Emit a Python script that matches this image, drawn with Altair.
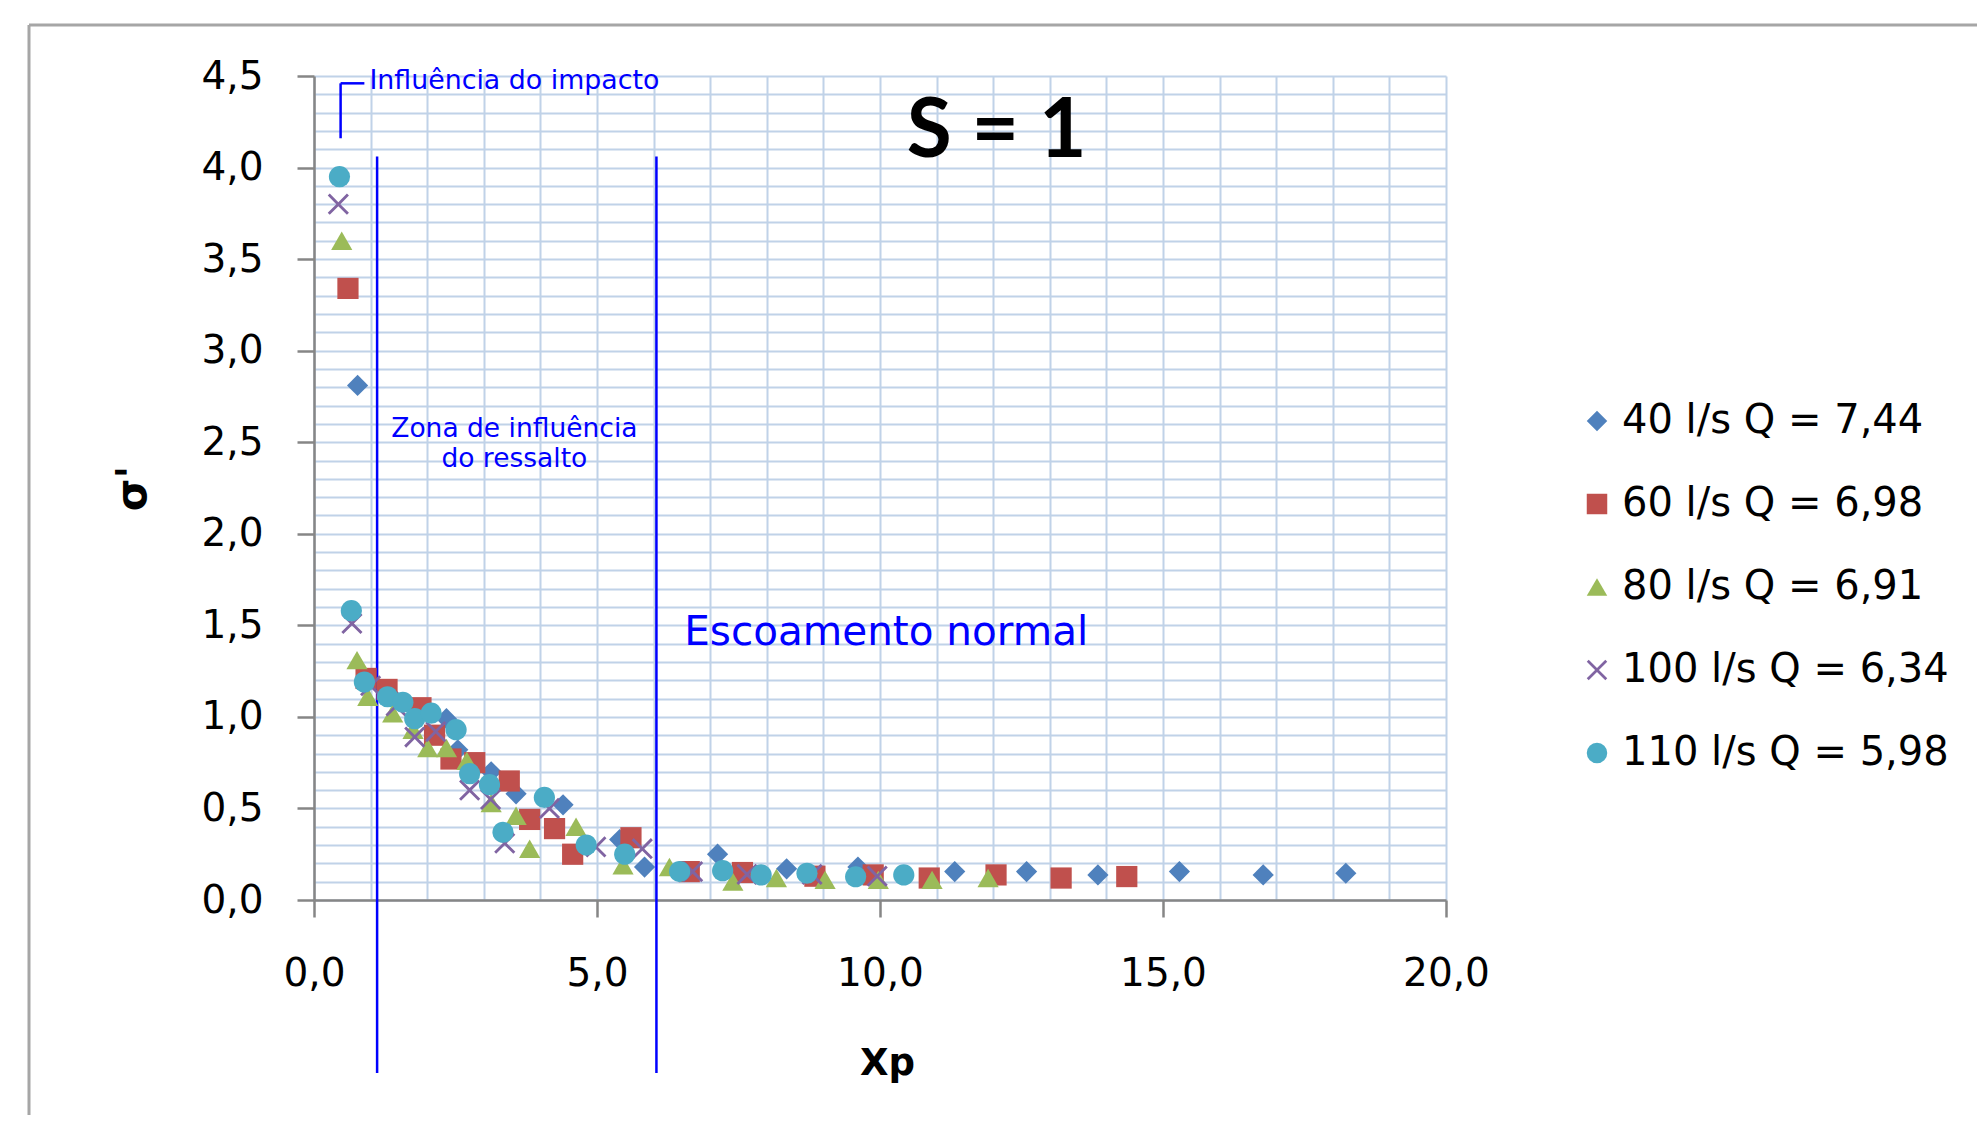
import altair as alt
import pandas as pd

# ---------------- data ----------------
labels = ["40 l/s Q = 7,44", "60 l/s Q = 6,98", "80 l/s Q = 6,91",
          "100 l/s Q = 6,34", "110 l/s Q = 5,98"]
colors = ["#4f81bd", "#c0504d", "#9bbb59", "#8064a2", "#4bacc6"]

x_40 = [0.77, 1.35, 1.90, 2.34, 2.54, 3.13, 3.57, 4.40, 5.40, 5.84, 7.13,
        8.35, 9.61, 11.32, 12.59, 13.85, 15.29, 16.77, 18.23]
y_40 = [2.81, 1.12, 1.02, 0.99, 0.82, 0.70, 0.58, 0.52, 0.33, 0.18, 0.25,
        0.17, 0.18, 0.155, 0.155, 0.137, 0.155, 0.137, 0.146]

x_60 = [0.60, 0.92, 1.29, 1.89, 2.13, 2.42, 2.84, 3.45, 3.81, 4.25, 4.57,
        5.60, 6.63, 7.57, 8.85, 9.88, 10.87, 12.05, 13.20, 14.36]
y_60 = [3.34, 1.21, 1.15, 1.05, 0.90, 0.77, 0.75, 0.65, 0.44, 0.39, 0.25,
        0.34, 0.155, 0.15, 0.13, 0.137, 0.12, 0.137, 0.12, 0.128]

x_80 = [0.49, 0.76, 0.95, 1.39, 1.75, 2.01, 2.34, 2.70, 3.13, 3.57, 3.81,
        4.63, 5.46, 6.28, 7.40, 8.17, 9.03, 9.97, 10.92, 11.91]
y_80 = [3.60, 1.31, 1.11, 1.02, 0.93, 0.83, 0.83, 0.76, 0.53, 0.46, 0.28,
        0.40, 0.19, 0.18, 0.10, 0.12, 0.11, 0.11, 0.11, 0.12]

x_100 = [0.43, 0.67, 1.00, 1.45, 1.78, 2.15, 2.75, 3.12, 3.37, 4.16, 4.98,
         5.80, 6.69, 7.65, 8.80, 9.95]
y_100 = [3.80, 1.51, 1.17, 1.06, 0.89, 0.92, 0.60, 0.55, 0.31, 0.50, 0.29,
         0.28, 0.155, 0.14, 0.14, 0.13]

x_110 = [0.45, 0.66, 0.89, 1.30, 1.57, 1.78, 2.07, 2.51, 2.75, 3.10, 3.34,
         4.07, 4.81, 5.49, 6.46, 7.22, 7.90, 8.71, 9.57, 10.42]
y_110 = [3.95, 1.58, 1.19, 1.11, 1.08, 0.99, 1.02, 0.93, 0.69, 0.63, 0.37,
         0.56, 0.30, 0.25, 0.155, 0.16, 0.137, 0.146, 0.127, 0.137]

# ---------------- tables ----------------
rows = []
for lab, xs, ys in zip(labels, [x_40, x_60, x_80, x_100, x_110],
                       [y_40, y_60, y_80, y_100, y_110]):
    for xv, yv in zip(xs, ys):
        rows.append({"series": lab, "x": xv, "y": yv})
pts = pd.DataFrame(rows)

FONT = "DejaVu Sans"
BLUE = "#0000ff"
AXIS_GREY = "#868686"

x_grid = list(range(0, 21))
y_grid = [round(i * 0.1, 1) for i in range(46)]

xscale = alt.Scale(domain=[0, 20], nice=False, zero=False)
yscale = alt.Scale(domain=[0, 4.5], nice=False, zero=False)

x_label_expr = "datum.value % 5 == 0 ? replace(format(datum.value, '.1f'), '.', ',') : ''"
y_test = "abs(datum.value*2 - round(datum.value*2)) < 0.001"
y_label_expr = y_test + " ? replace(format(datum.value, '.1f'), '.', ',') : ''"

common_axis = dict(grid=True, gridColor="#c0d2e8", gridWidth=2, gridOpacity=1,
                   domainColor=AXIS_GREY, domainWidth=2.5, tickColor=AXIS_GREY,
                   tickWidth=2.5, tickSize=17, labelFont=FONT, labelFontSize=39,
                   labelColor="black", labelOverlap=False, labelFlush=False,
                   titleFont=FONT, titleColor="black", titleAlign="center",
                   titleBaseline="alphabetic", titleFontWeight="bold")

xaxis = alt.Axis(values=x_grid, labelExpr=x_label_expr,
                 tickOpacity={"condition": {"test": "datum.value % 5 == 0", "value": 1}, "value": 0},
                 labelPadding=37, title="Xp", titleX=573, titleY=174, titleFontSize=37,
                 **common_axis)
yaxis = alt.Axis(values=y_grid, labelExpr=y_label_expr,
                 tickOpacity={"condition": {"test": y_test, "value": 1}, "value": 0},
                 labelPadding=34, title="σ'", titleX=-169, titleY=412, titleFontSize=42,
                 **common_axis)


def X(f="x"):
    return alt.X(f, type="quantitative", scale=xscale, axis=xaxis)


def Y(f="y"):
    return alt.Y(f, type="quantitative", scale=yscale, axis=yaxis)


x_path = ("M-1,-0.81L-0.81,-1L0,-0.19L0.81,-1L1,-0.81L0.19,0L1,0.81L0.81,1"
          "L0,0.19L-0.81,1L-1,0.81L-0.19,0Z")
shapes = ["diamond", "square", "triangle-up", x_path, "circle"]

legend = alt.Legend(orient="none", legendX=1263, legendY=325, labelFont=FONT,
                    labelFontSize=40, labelColor="black", symbolSize=420,
                    rowPadding=43, labelOffset=5, padding=0, labelLimit=600)

points = alt.Chart(pts).mark_point(filled=True, opacity=1, size=450).encode(
    x=X(), y=Y(),
    color=alt.Color("series:N", scale=alt.Scale(domain=labels, range=colors),
                    legend=legend, title=None),
    shape=alt.Shape("series:N", scale=alt.Scale(domain=labels, range=shapes),
                    legend=legend, title=None),
)

# vertical zone lines and the bracket of "Influência do impacto"
lines_df = pd.DataFrame({
    "x": [1.115, 6.05, 0.47, 0.47],
    "x2": [1.115, 6.05, 0.47, 0.89],
    "y": [4.06, 4.06, 4.16, 4.46],
    "y2": [-0.945, -0.945, 4.46, 4.46],
})
lines = alt.Chart(lines_df).mark_rule(color=BLUE, strokeWidth=2.5, clip=False).encode(
    x=X(), x2="x2:Q", y=Y(), y2="y2:Q")

t_imp = alt.Chart(pd.DataFrame({"x": [0.98], "y": [4.43], "t": ["Influência do impacto"]})).mark_text(
    align="left", baseline="alphabetic", font=FONT, fontSize=26.8, color=BLUE).encode(
    x=X(), y=Y(), text="t:N")

t_zona = alt.Chart(pd.DataFrame({"x": [3.54, 3.54], "y": [2.53, 2.365],
                                 "t": ["Zona de influência", "do ressalto"]})).mark_text(
    align="center", baseline="alphabetic", font=FONT, fontSize=26.5, color=BLUE).encode(
    x=X(), y=Y(), text="t:N")

t_esc = alt.Chart(pd.DataFrame({"x": [10.11], "y": [1.393], "t": ["Escoamento normal"]})).mark_text(
    align="center", baseline="alphabetic", font=FONT, fontSize=40.5, color=BLUE).encode(
    x=X(), y=Y(), text="t:N")

t_s = alt.Chart(pd.DataFrame({"x": [12.06], "y": [4.06], "t": ["S = 1"]})).mark_text(
    align="center", baseline="alphabetic", font="Lato", fontSize=82, fontWeight="bold",
    color="black").encode(x=X(), y=Y(), text="t:N")

one = pd.DataFrame({"a": [0]})
frame_v = alt.Chart(one).mark_rule(color="#a6a6a6", strokeWidth=3, clip=False).encode(
    x=alt.value(-285), y=alt.value(-51), y2=alt.value(1110))
frame_h = alt.Chart(one).mark_rule(color="#a6a6a6", strokeWidth=3, clip=False).encode(
    x=alt.value(-285), x2=alt.value(1700), y=alt.value(-51))

chart = alt.layer(frame_v, frame_h, lines, t_imp, t_zona, t_esc, t_s, points).properties(
    width=1132, height=824,
    padding={"left": 306, "top": 68, "right": 531, "bottom": 215},
    autosize=alt.AutoSizeParams(type="none"),
    background="white",
).configure_view(stroke=None)

chart.save("out.html", embed_options={"renderer": "svg", "actions": False})
